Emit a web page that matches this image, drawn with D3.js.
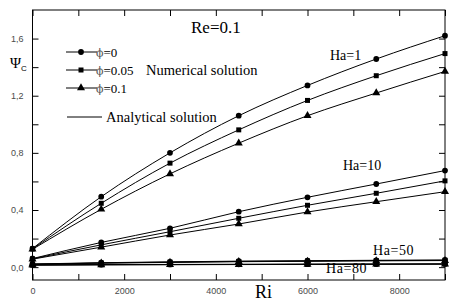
<!DOCTYPE html>
<html lang="en">
<head>
<meta charset="utf-8">
<script src="https://cdn.jsdelivr.net/npm/d3@7"></script>
<style>
  body { margin: 0; background: #fff; }
  .tick text { font: 9px "Liberation Sans", Arial, sans-serif; fill: #4a4a4a; }
  .serif { font-family: "Liberation Serif", "Times New Roman", "DejaVu Serif", serif; fill: #000; }
</style>
</head>
<body>
<svg id="chart" width="454" height="306"></svg>
<script>
// Ri values where the solutions were sampled
const ri = [0, 1500, 3000, 4500, 6000, 7500, 9000];

// psi_c, Ha = 1
const ha1Phi0   = [0.130, 0.493, 0.800, 1.060, 1.272, 1.457, 1.620];
const ha1Phi005 = [0.128, 0.447, 0.728, 0.961, 1.167, 1.340, 1.495];
const ha1Phi01  = [0.125, 0.405, 0.653, 0.868, 1.060, 1.219, 1.370];
// Ha = 10
const ha10Phi0   = [0.060, 0.173, 0.272, 0.388, 0.489, 0.582, 0.676];
const ha10Phi005 = [0.058, 0.156, 0.248, 0.342, 0.433, 0.517, 0.604];
const ha10Phi01  = [0.056, 0.140, 0.225, 0.302, 0.386, 0.458, 0.528];
// Ha = 50
const ha50Phi0   = [0.022, 0.031, 0.037, 0.042, 0.045, 0.048, 0.050];
const ha50Phi005 = [0.021, 0.029, 0.035, 0.040, 0.043, 0.046, 0.048];
const ha50Phi01  = [0.020, 0.028, 0.033, 0.038, 0.041, 0.044, 0.046];
// Ha = 80
const ha80Phi0   = [0.016, 0.018, 0.019, 0.020, 0.021, 0.022, 0.023];
const ha80Phi005 = [0.015, 0.017, 0.018, 0.019, 0.020, 0.021, 0.022];
const ha80Phi01  = [0.014, 0.016, 0.017, 0.018, 0.019, 0.020, 0.021];

const xTicks = [0, 1000, 2000, 3000, 4000, 5000, 6000, 7000, 8000, 9000];
const xLabels = [0, 2000, 4000, 6000, 8000];
const yTicks = [0, 0.2, 0.4, 0.6, 0.8, 1.0, 1.2, 1.4, 1.6];
const yLabels = [0, 0.4, 0.8, 1.2, 1.6];

const series = [
  { vals: ha1Phi0, sym: d3.symbolCircle },
  { vals: ha1Phi005, sym: d3.symbolSquare },
  { vals: ha1Phi01, sym: d3.symbolTriangle },
  { vals: ha10Phi0, sym: d3.symbolCircle },
  { vals: ha10Phi005, sym: d3.symbolSquare },
  { vals: ha10Phi01, sym: d3.symbolTriangle },
  { vals: ha50Phi0, sym: d3.symbolCircle },
  { vals: ha50Phi005, sym: d3.symbolSquare },
  { vals: ha50Phi01, sym: d3.symbolTriangle },
  { vals: ha80Phi0, sym: d3.symbolCircle },
  { vals: ha80Phi005, sym: d3.symbolSquare },
  { vals: ha80Phi01, sym: d3.symbolTriangle }
];

const svg = d3.select("#chart");
const x = d3.scaleLinear().domain([0, 9000]).range([32.5, 445]);
const y = d3.scaleLinear().domain([-0.09, 1.8]).range([280, 10]);

function sizeOf(sym) {
  return sym === d3.symbolCircle ? 26 : sym === d3.symbolSquare ? 25 : 28;
}

// frame
svg.append("rect")
  .attr("x", x(0)).attr("y", y(1.8))
  .attr("width", x(9000) - x(0)).attr("height", y(-0.09) - y(1.8))
  .attr("fill", "none").attr("stroke", "#000");

const fmt = d => xLabels.includes(d) ? d : "";
svg.append("g").attr("transform", `translate(0,${y(-0.09)})`)
  .call(d3.axisBottom(x).tickValues(xTicks).tickSize(-6).tickPadding(8).tickFormat(fmt));
svg.append("g").attr("transform", `translate(0,${y(1.8)})`)
  .call(d3.axisTop(x).tickValues(xTicks).tickSize(-6).tickFormat(""));
svg.append("g").attr("transform", `translate(${x(0)},0)`)
  .call(d3.axisLeft(y).tickValues(yTicks).tickSize(-6).tickPadding(9)
    .tickFormat(d => yLabels.some(v => Math.abs(v - d) < 1e-9) ? d3.format(".1f")(d).replace(".", ",") : ""));
svg.append("g").attr("transform", `translate(${x(9000)},0)`)
  .call(d3.axisRight(y).tickValues(yTicks).tickSize(-6).tickFormat(""));
svg.selectAll(".domain").remove();
svg.selectAll(".tick line").attr("stroke", "#000");

// curves (analytical solution)
const line = d3.line().x((d, i) => x(ri[i])).y(d => y(d)).curve(d3.curveMonotoneX);
svg.append("g").selectAll("path").data(series).join("path")
  .attr("d", s => line(s.vals))
  .attr("fill", "none").attr("stroke", "#000").attr("stroke-width", 1);

// markers (numerical solution)
series.forEach(s => {
  svg.append("g").selectAll("path").data(s.vals).join("path")
    .attr("transform", (d, i) => `translate(${x(ri[i])},${y(d)})`)
    .attr("d", d3.symbol(s.sym, sizeOf(s.sym)))
    .attr("fill", "#000");
});

// labels
svg.append("text").attr("class", "serif").attr("x", 191).attr("y", 33)
  .attr("font-size", 17).text("Re=0.1");
svg.append("text").attr("class", "serif").attr("x", 330).attr("y", 60)
  .attr("font-size", 14).text("Ha=1");
svg.append("text").attr("class", "serif").attr("x", 343).attr("y", 170)
  .attr("font-size", 14).text("Ha=10");
svg.append("text").attr("class", "serif").attr("x", 373).attr("y", 255)
  .attr("font-size", 14).attr("letter-spacing", 0.6).text("Ha=50");
svg.append("text").attr("class", "serif").attr("x", 326).attr("y", 273)
  .attr("font-size", 14).attr("letter-spacing", 0.6).text("Ha=80");

// axis titles
svg.append("text").attr("class", "serif").attr("x", 255).attr("y", 298)
  .attr("font-family", "Liberation Serif, Times New Roman, serif")
  .attr("font-size", 18).text("Ri");
const yt = svg.append("text").attr("class", "serif").attr("x", 10).attr("y", 68).attr("font-size", 15);
yt.append("tspan").text("Ψ");
yt.append("tspan").attr("dy", 3).attr("font-size", 8)
  .attr("font-family", "Liberation Sans, Arial, sans-serif").text("C");

// legend
const legendRows = [
  { sym: d3.symbolCircle, label: "=0", yy: 52 },
  { sym: d3.symbolSquare, label: "=0.05", yy: 70 },
  { sym: d3.symbolTriangle, label: "=0.1", yy: 88 }
];
const lg = svg.append("g");
legendRows.forEach(r => {
  lg.append("line").attr("x1", 66).attr("x2", 97).attr("y1", r.yy).attr("y2", r.yy).attr("stroke", "#000");
  lg.append("path").attr("transform", `translate(81,${r.yy})`)
    .attr("d", d3.symbol(r.sym, sizeOf(r.sym))).attr("fill", "#000");
  const t = lg.append("text").attr("class", "serif").attr("x", 96).attr("y", r.yy + 5).attr("font-size", 13);
  t.append("tspan").attr("fill", "#555").attr("font-family", "DejaVu Serif, serif").attr("font-size", 11).text("ϕ");
  t.append("tspan").text(r.label);
});
lg.append("text").attr("class", "serif").attr("x", 146).attr("y", 75)
  .attr("font-size", 14.5).text("Numerical solution");
lg.append("line").attr("x1", 67).attr("x2", 102).attr("y1", 117).attr("y2", 117).attr("stroke", "#000");
lg.append("text").attr("class", "serif").attr("x", 106).attr("y", 122)
  .attr("font-size", 14.5).text("Analytical solution");
</script>
</body>
</html>
